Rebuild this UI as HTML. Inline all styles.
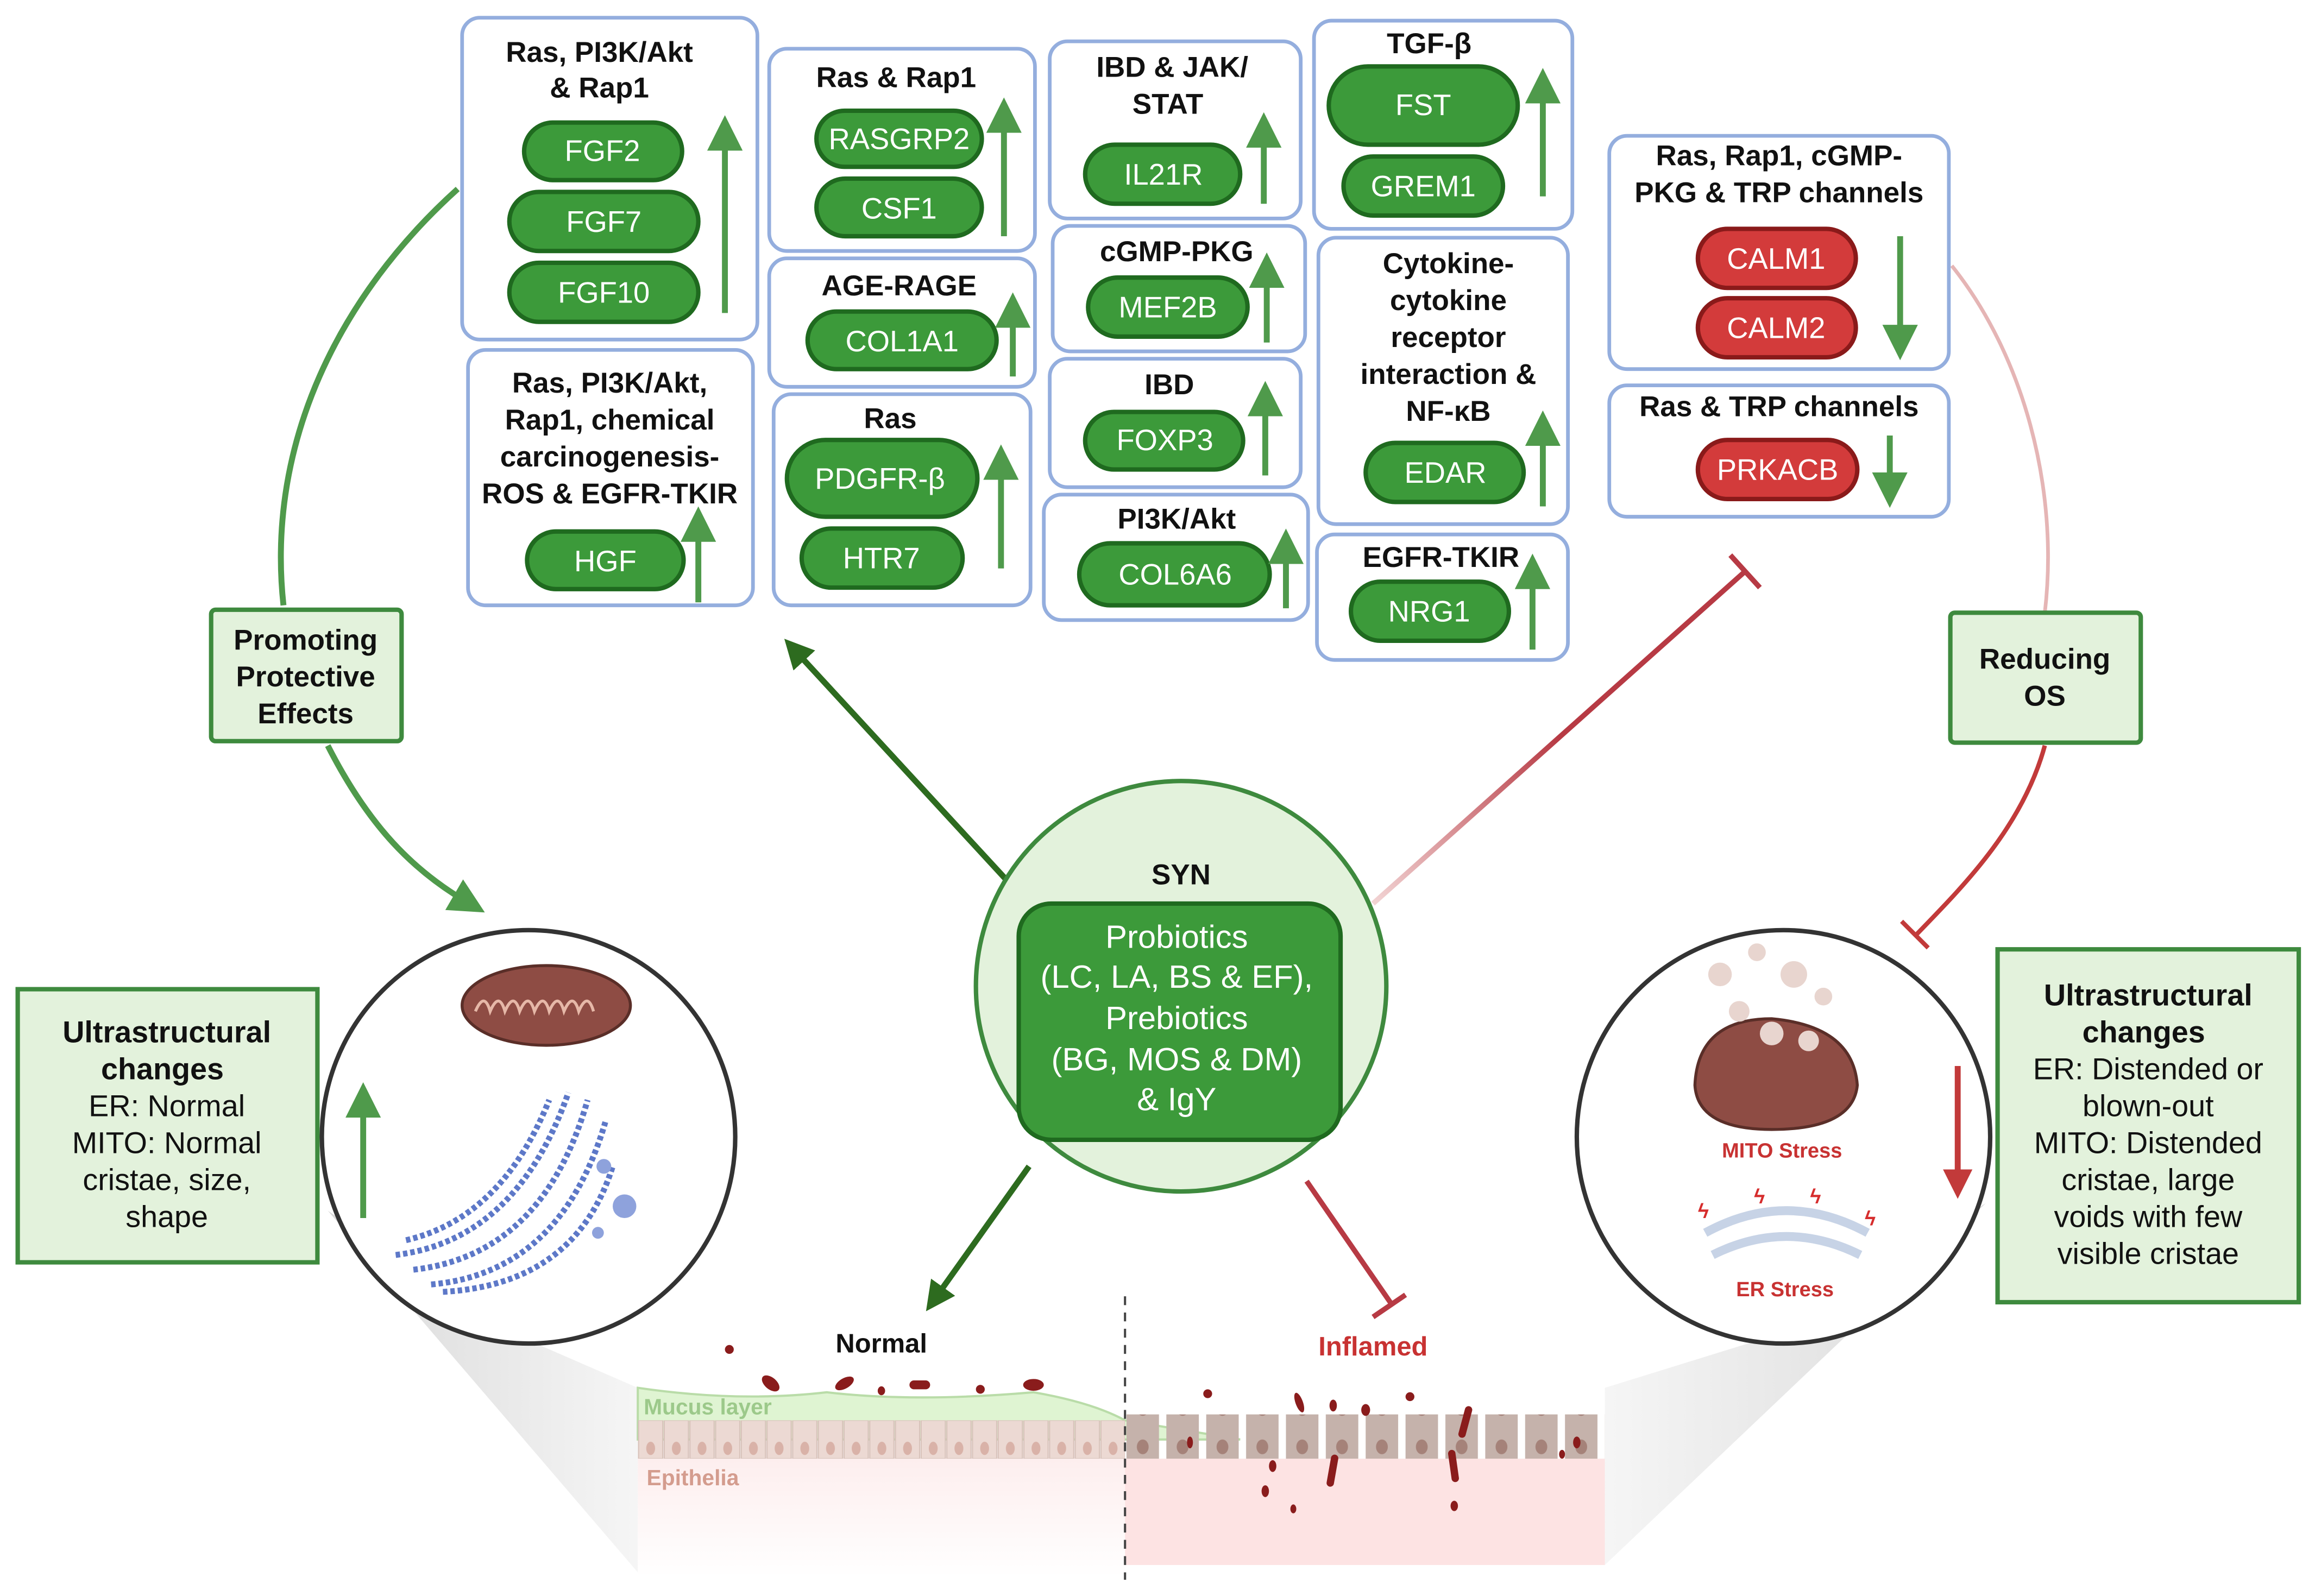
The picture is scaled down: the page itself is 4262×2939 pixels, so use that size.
<!DOCTYPE html>
<html><head><meta charset="utf-8"><style>
html,body{margin:0;padding:0;background:#fff}
svg{display:block}
text{font-family:"Liberation Sans",sans-serif}
.t{font-weight:bold;font-size:19.5px;fill:#111;text-anchor:middle}
.p{font-size:20px;fill:#fff;text-anchor:middle}
.box{fill:#fff;stroke:#94aede;stroke-width:2.5}
.gp{fill:#3c9a3a;stroke:#1f6a1f;stroke-width:3}
.rp{fill:#d33b3b;stroke:#8a1a1a;stroke-width:3}
.ua{stroke:#4f9a4b;stroke-width:4;fill:none}
</style></head><body>
<svg width="4262" height="2939" viewBox="0 0 1568 1081" preserveAspectRatio="none" xmlns="http://www.w3.org/2000/svg">
<defs>
<marker id="ga" markerWidth="6" markerHeight="6" refX="3" refY="3" orient="auto" markerUnits="strokeWidth"><path d="M0,0 L6,3 L0,6 z" fill="#4f9a4b"/></marker>
<marker id="gd" markerWidth="5" markerHeight="5" refX="2.5" refY="2.5" orient="auto" markerUnits="strokeWidth"><path d="M0,0 L5,2.5 L0,5 z" fill="#2d6b1f"/></marker>
<marker id="rd" markerWidth="5" markerHeight="5" refX="2.5" refY="2.5" orient="auto" markerUnits="strokeWidth"><path d="M0,0 L5,2.5 L0,5 z" fill="#c23a3a"/></marker>
<linearGradient id="fadeG" x1="0" y1="1" x2="1" y2="0"><stop offset="0" stop-color="#cfe7c9"/><stop offset="0.2" stop-color="#2d6b1f"/></linearGradient>
<linearGradient id="fadeR" x1="0" y1="1" x2="1" y2="0"><stop offset="0" stop-color="#f2d4d4"/><stop offset="0.5" stop-color="#b73a44"/></linearGradient>
<linearGradient id="cone" x1="0" y1="0" x2="1" y2="0"><stop offset="0" stop-color="#cfcfcf"/><stop offset="1" stop-color="#f3f3f3"/></linearGradient>
<linearGradient id="cone2" x1="1" y1="0" x2="0" y2="0"><stop offset="0" stop-color="#cfcfcf"/><stop offset="1" stop-color="#f3f3f3"/></linearGradient>
<linearGradient id="epi" x1="0" y1="0" x2="0" y2="1"><stop offset="0" stop-color="#fdeeee"/><stop offset="1" stop-color="#fff"/></linearGradient>
<pattern id="cellN" x="432" y="962" width="17.4" height="26" patternUnits="userSpaceOnUse"><rect x="0.5" y="0" width="16.4" height="26" fill="#ecd9d3" stroke="#d8c2ba" stroke-width="0.8"/><ellipse cx="8.7" cy="19" rx="3" ry="4.5" fill="#d9b2a8"/></pattern>
<pattern id="cellI" x="762" y="962" width="27" height="26" patternUnits="userSpaceOnUse"><rect x="1" y="0" width="22" height="26" fill="#c5b2ab"/><ellipse cx="12" cy="18" rx="4" ry="5" fill="#a58279"/></pattern>
</defs>

<!-- cones -->
<path d="M222,820 L432,1065 L432,940 L340,900 Z" fill="url(#cone)" opacity="0.8"/>
<path d="M1345,815 L1087,1060 L1087,940 L1200,905 Z" fill="url(#cone2)" opacity="0.8"/>

<!-- epithelium -->
<rect x="432" y="988" width="330" height="80" fill="url(#epi)"/>
<rect x="762" y="988" width="325" height="72" fill="#fde3e3"/>
<path d="M432,940 Q500,950 560,943 Q620,950 700,943 Q740,950 762,962 L840,975 L432,975 Z" fill="#dff4d2" stroke="#b9dca8" stroke-width="1.5"/>
<rect x="432" y="962" width="330" height="26" fill="url(#cellN)"/>
<rect x="762" y="958" width="325" height="30" fill="url(#cellI)"/>
<text x="436" y="958" font-size="15" font-weight="bold" fill="#9cc98a">Mucus layer</text>
<text x="438" y="1006" font-size="15" font-weight="bold" fill="#d49c8e">Epithelia</text>
<line x1="762" y1="878" x2="762" y2="1070" stroke="#444" stroke-width="1.5" stroke-dasharray="6,5"/>
<text x="597" y="916" font-size="18" font-weight="bold" fill="#111" text-anchor="middle">Normal</text>
<text x="930" y="918" font-size="18" font-weight="bold" fill="#c83232" text-anchor="middle">Inflamed</text>
<g fill="#8a1c1c">
<ellipse cx="494" cy="914" rx="3" ry="3"/><ellipse cx="522" cy="937" rx="7" ry="4" transform="rotate(40 522 937)"/><ellipse cx="572" cy="937" rx="7" ry="3.5" transform="rotate(-30 572 937)"/><rect x="616" y="935" width="14" height="6" rx="3"/><ellipse cx="664" cy="941" rx="3" ry="3"/><ellipse cx="700" cy="938" rx="7" ry="4"/><ellipse cx="597" cy="942" rx="2.5" ry="3"/>
<ellipse cx="818" cy="944" rx="3" ry="3"/><ellipse cx="880" cy="950" rx="2.5" ry="7" transform="rotate(-20 880 950)"/><ellipse cx="955" cy="946" rx="3" ry="3"/><ellipse cx="925" cy="955" rx="3" ry="4"/><rect x="990" y="952" width="5" height="22" rx="2.5" transform="rotate(15 992 963)"/><ellipse cx="903" cy="952" rx="2.5" ry="4"/>
<ellipse cx="857" cy="1010" rx="2.5" ry="4"/><ellipse cx="862" cy="993" rx="2.5" ry="4"/><rect x="900" y="985" width="5" height="22" rx="2.5" transform="rotate(10 902 996)"/><rect x="982" y="982" width="5" height="22" rx="2.5" transform="rotate(-8 984 993)"/><ellipse cx="985" cy="1020" rx="2.5" ry="3.5"/><ellipse cx="876" cy="1022" rx="2" ry="3"/><ellipse cx="806" cy="977" rx="2" ry="4"/><ellipse cx="1068" cy="977" rx="2.5" ry="4"/><ellipse cx="1058" cy="985" rx="2" ry="3"/>
</g>

<!-- connectors -->
<path d="M310,128 C230,200 180,300 192,410" class="ua" stroke-width="2.5"/>
<path d="M222,505 C250,560 280,590 318,612" class="ua" marker-end="url(#ga)"/>
<path d="M1322,180 C1370,240 1395,330 1385,415" stroke="#e5b5b5" stroke-width="2.5" fill="none"/>
<path d="M1385,505 C1370,560 1330,600 1298,633" stroke="#c23a3a" stroke-width="3" fill="none"/>
<line x1="1288" y1="624" x2="1306" y2="642" stroke="#c23a3a" stroke-width="3"/>
<line x1="690" y1="605" x2="538" y2="440" stroke="url(#fadeG)" stroke-width="4" marker-end="url(#gd)"/>
<line x1="697" y1="790" x2="633" y2="880" stroke="#2d6b1f" stroke-width="4" marker-end="url(#gd)"/>
<line x1="930" y1="612" x2="1182" y2="387" stroke="url(#fadeR)" stroke-width="3.5"/>
<line x1="1172" y1="376" x2="1192" y2="398" stroke="#b73a44" stroke-width="3.5"/>
<line x1="885" y1="800" x2="943" y2="884" stroke="#b73a44" stroke-width="3.5"/>
<line x1="930" y1="892" x2="952" y2="877" stroke="#b73a44" stroke-width="3.5"/>

<!-- boxes -->
<rect class="box" x="313" y="12" width="200" height="218" rx="12"/>
<text class="t" x="406" y="42">Ras, PI3K/Akt</text><text class="t" x="406" y="66">&amp; Rap1</text>
<rect class="gp" x="355" y="83" width="107" height="39" rx="19.5"/><text class="p" x="408" y="109">FGF2</text>
<rect class="gp" x="345" y="130" width="128" height="40" rx="20"/><text class="p" x="409" y="157">FGF7</text>
<rect class="gp" x="345" y="178" width="128" height="40" rx="20"/><text class="p" x="409" y="205">FGF10</text>
<line x1="491" y1="212" x2="491" y2="90" class="ua" marker-end="url(#ga)"/>

<rect class="box" x="521" y="33" width="180" height="137" rx="12"/>
<text class="t" x="607" y="59">Ras &amp; Rap1</text>
<rect class="gp" x="553" y="75" width="112" height="38" rx="19"/><text class="p" x="609" y="101">RASGRP2</text>
<rect class="gp" x="553" y="121" width="112" height="39" rx="19.5"/><text class="p" x="609" y="148">CSF1</text>
<line x1="680" y1="160" x2="680" y2="78" class="ua" marker-end="url(#ga)"/>

<rect class="box" x="521" y="175" width="180" height="87" rx="12"/>
<text class="t" x="609" y="200">AGE-RAGE</text>
<rect class="gp" x="547" y="211" width="128" height="39" rx="19.5"/><text class="p" x="611" y="238">COL1A1</text>
<line x1="686" y1="255" x2="686" y2="210" class="ua" marker-end="url(#ga)"/>

<rect class="box" x="524" y="267" width="174" height="143" rx="12"/>
<text class="t" x="603" y="290">Ras</text>
<rect class="gp" x="533" y="298" width="129" height="52" rx="26"/><text class="p" x="596" y="331">PDGFR-β</text>
<rect class="gp" x="543" y="358" width="109" height="40" rx="20"/><text class="p" x="597" y="385">HTR7</text>
<line x1="678" y1="385" x2="678" y2="313" class="ua" marker-end="url(#ga)"/>

<rect class="box" x="317" y="237" width="193" height="173" rx="12"/>
<text class="t" x="413" y="266">Ras, PI3K/Akt,</text><text class="t" x="413" y="291">Rap1,  chemical</text><text class="t" x="413" y="316">carcinogenesis-</text><text class="t" x="413" y="341">ROS &amp; EGFR-TKIR</text>
<rect class="gp" x="357" y="360" width="106" height="39" rx="19.5"/><text class="p" x="410" y="387">HGF</text>
<line x1="473" y1="408" x2="473" y2="355" class="ua" marker-end="url(#ga)"/>

<rect class="box" x="711" y="28" width="170" height="120" rx="12"/>
<text class="t" x="794" y="52">IBD &amp; JAK/</text><text class="t" x="791" y="77">STAT</text>
<rect class="gp" x="735" y="98" width="105" height="40" rx="20"/><text class="p" x="788" y="125">IL21R</text>
<line x1="856" y1="138" x2="856" y2="88" class="ua" marker-end="url(#ga)"/>

<rect class="box" x="713" y="153" width="171" height="85" rx="12"/>
<text class="t" x="797" y="177">cGMP-PKG</text>
<rect class="gp" x="737" y="188" width="108" height="40" rx="20"/><text class="p" x="791" y="215">MEF2B</text>
<line x1="858" y1="232" x2="858" y2="183" class="ua" marker-end="url(#ga)"/>

<rect class="box" x="711" y="243" width="170" height="87" rx="12"/>
<text class="t" x="792" y="267">IBD</text>
<rect class="gp" x="735" y="279" width="107" height="39" rx="19.5"/><text class="p" x="789" y="305">FOXP3</text>
<line x1="857" y1="322" x2="857" y2="270" class="ua" marker-end="url(#ga)"/>

<rect class="box" x="707" y="335" width="179" height="85" rx="12"/>
<text class="t" x="797" y="358">PI3K/Akt</text>
<rect class="gp" x="731" y="368" width="129" height="42" rx="21"/><text class="p" x="796" y="396">COL6A6</text>
<line x1="871" y1="412" x2="871" y2="370" class="ua" marker-end="url(#ga)"/>

<rect class="box" x="890" y="14" width="175" height="141" rx="12"/>
<text class="t" x="968" y="36">TGF-β</text>
<rect class="gp" x="900" y="45" width="128" height="53" rx="26.5"/><text class="p" x="964" y="78">FST</text>
<rect class="gp" x="910" y="106" width="108" height="40" rx="20"/><text class="p" x="964" y="133">GREM1</text>
<line x1="1045" y1="133" x2="1045" y2="58" class="ua" marker-end="url(#ga)"/>

<rect class="box" x="893" y="161" width="169" height="194" rx="12"/>
<text class="t" x="981" y="185">Cytokine-</text><text class="t" x="981" y="210">cytokine</text><text class="t" x="981" y="235">receptor</text><text class="t" x="981" y="260">interaction &amp;</text><text class="t" x="981" y="285">NF-κB</text>
<rect class="gp" x="925" y="300" width="107" height="40" rx="20"/><text class="p" x="979" y="327">EDAR</text>
<line x1="1045" y1="343" x2="1045" y2="290" class="ua" marker-end="url(#ga)"/>

<rect class="box" x="892" y="362" width="170" height="85" rx="12"/>
<text class="t" x="976" y="384">EGFR-TKIR</text>
<rect class="gp" x="915" y="394" width="107" height="40" rx="20"/><text class="p" x="968" y="421">NRG1</text>
<line x1="1038" y1="440" x2="1038" y2="387" class="ua" marker-end="url(#ga)"/>

<rect class="box" x="1090" y="92" width="230" height="158" rx="12"/>
<text class="t" x="1205" y="112">Ras, Rap1, cGMP-</text><text class="t" x="1205" y="137">PKG &amp; TRP channels</text>
<rect class="rp" x="1150" y="155" width="107" height="40" rx="20"/><text class="p" x="1203" y="182">CALM1</text>
<rect class="rp" x="1150" y="202" width="107" height="40" rx="20"/><text class="p" x="1203" y="229">CALM2</text>
<line x1="1287" y1="160" x2="1287" y2="232" class="ua" marker-end="url(#ga)"/>

<rect class="box" x="1090" y="261" width="230" height="89" rx="12"/>
<text class="t" x="1205" y="282">Ras &amp; TRP channels</text>
<rect class="rp" x="1150" y="298" width="108" height="40" rx="20"/><text class="p" x="1204" y="325">PRKACB</text>
<line x1="1280" y1="295" x2="1280" y2="332" class="ua" marker-end="url(#ga)"/>

<!-- label boxes -->
<rect x="143" y="413" width="129" height="89" fill="#e3f2dc" stroke="#3e8a3e" stroke-width="3" rx="3"/>
<text class="t" x="207" y="440">Promoting</text><text class="t" x="207" y="465">Protective</text><text class="t" x="207" y="490">Effects</text>
<rect x="1321" y="415" width="129" height="88" fill="#e3f2dc" stroke="#3e8a3e" stroke-width="3" rx="3"/>
<text class="t" x="1385" y="453">Reducing</text><text class="t" x="1385" y="478">OS</text>

<!-- center -->
<circle cx="800" cy="668" r="139" fill="#e3f2dc" stroke="#3e8a3e" stroke-width="3"/>
<text class="t" x="800" y="599">SYN</text>
<rect x="690" y="612" width="218" height="160" rx="22" fill="#3c9a3a" stroke="#1f6a1f" stroke-width="3"/>
<g font-size="22" fill="#fff" text-anchor="middle"><text x="797" y="642">Probiotics</text><text x="797" y="669">(LC, LA, BS &amp; EF),</text><text x="797" y="697">Prebiotics</text><text x="797" y="725">(BG, MOS &amp; DM)</text><text x="797" y="752">&amp; IgY</text></g>

<!-- left circle -->
<circle cx="358" cy="770" r="140" fill="#fff" stroke="#333" stroke-width="3"/>
<ellipse cx="370" cy="681" rx="57" ry="27" fill="#8e4c44" stroke="#5a2e28" stroke-width="2"/>
<path d="M322,685 q6,-14 10,0 q6,-14 10,0 q6,-14 10,0 q6,-14 10,0 q6,-14 10,0 q6,-14 10,0 q6,-14 10,0 q6,-14 10,0" stroke="#e6b8a8" stroke-width="2" fill="none"/>
<g stroke="#5d78c8" stroke-width="4" fill="none" stroke-dasharray="3,2">
<path d="M268,850 Q350,840 385,740"/><path d="M280,860 Q368,850 398,745"/><path d="M292,870 Q380,862 410,760"/><path d="M275,840 Q340,825 372,745"/><path d="M300,875 Q390,870 415,790"/>
</g>
<circle cx="423" cy="817" r="8" fill="#8ea2dc"/><circle cx="409" cy="790" r="5" fill="#8ea2dc"/><circle cx="405" cy="835" r="4" fill="#8ea2dc"/>
<line x1="246" y1="825" x2="246" y2="745" class="ua" marker-end="url(#ga)"/>

<!-- right circle -->
<circle cx="1208" cy="770" r="140" fill="#fff" stroke="#333" stroke-width="3"/>
<path d="M1148,735 Q1150,690 1200,690 Q1255,695 1258,735 Q1255,765 1200,765 Q1150,765 1148,735Z" fill="#8e4c44" stroke="#5a2e28" stroke-width="2"/>
<g fill="#e8d5cf"><circle cx="1165" cy="660" r="8"/><circle cx="1190" cy="645" r="6"/><circle cx="1215" cy="660" r="9"/><circle cx="1235" cy="675" r="6"/><circle cx="1178" cy="685" r="7"/><circle cx="1200" cy="700" r="8"/><circle cx="1225" cy="705" r="7"/></g>
<text x="1207" y="784" font-size="14" font-weight="bold" fill="#c83232" text-anchor="middle">MITO Stress</text>
<g stroke="#c7d3e6" stroke-width="6" fill="none"><path d="M1155,835 Q1210,805 1265,835"/><path d="M1160,850 Q1210,825 1260,850"/></g>
<g fill="#d62d2d" font-size="14" font-weight="bold"><text x="1150" y="825">ϟ</text><text x="1188" y="815">ϟ</text><text x="1226" y="815">ϟ</text><text x="1263" y="830">ϟ</text></g>
<text x="1209" y="878" font-size="14" font-weight="bold" fill="#c83232" text-anchor="middle">ER Stress</text>
<line x1="1326" y1="722" x2="1326" y2="802" stroke="#c23a3a" stroke-width="4" marker-end="url(#rd)"/>

<!-- side boxes -->
<rect x="12" y="670" width="203" height="185" fill="#e3f2dc" stroke="#3e8a3e" stroke-width="3"/>
<g font-size="20.5" text-anchor="middle" fill="#111"><text x="113" y="706" font-weight="bold">Ultrastructural</text><text x="110" y="731" font-weight="bold">changes</text><text x="113" y="756">ER: Normal</text><text x="113" y="781">MITO: Normal</text><text x="113" y="806">cristae, size,</text><text x="113" y="831">shape</text></g>
<rect x="1353" y="643" width="204" height="239" fill="#e3f2dc" stroke="#3e8a3e" stroke-width="3"/>
<g font-size="20.5" text-anchor="middle" fill="#111"><text x="1455" y="681" font-weight="bold">Ultrastructural</text><text x="1452" y="706" font-weight="bold">changes</text><text x="1455" y="731">ER: Distended or</text><text x="1455" y="756">blown-out</text><text x="1455" y="781">MITO: Distended</text><text x="1455" y="806">cristae, large</text><text x="1455" y="831">voids with few</text><text x="1455" y="856">visible cristae</text></g>
</svg>
</body></html>
